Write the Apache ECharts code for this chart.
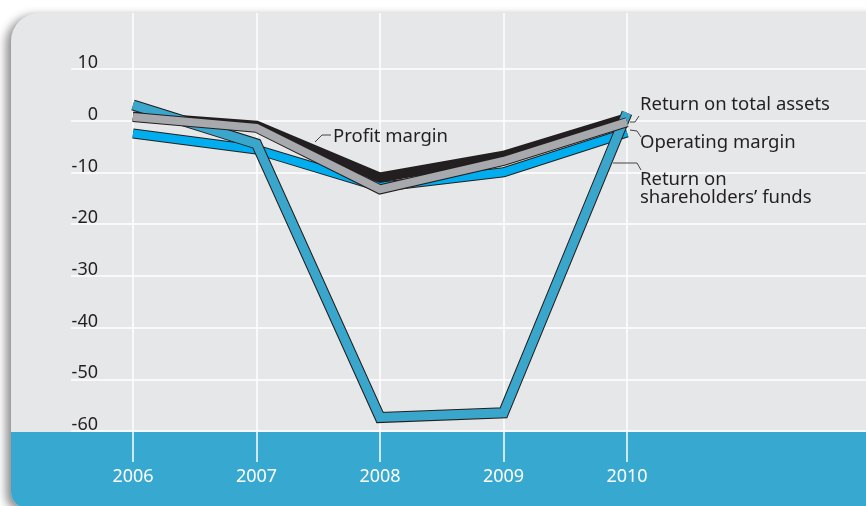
<!DOCTYPE html>
<html style="height: 100%">

<head>
    <meta charset="utf-8">
</head>

<body style="height: 100%; margin: 0; background: #fff">
    <div id="container" style="width: 866px; height: 506px"></div>

    <script src="https://cdn.jsdelivr.net/npm/echarts@6/dist/echarts.min.js"></script>

    <script type="text/javascript">
        // data
        var years = ['2006', '2007', '2008', '2009', '2010'];
        var yTicks = [10, 0, -10, -20, -30, -40, -50, -60];
        var profitMargin = [0.8, -1.0, -11, -6.8, 0.5];
        var returnTotalAssets = [0.7, -1.4, -13.3, -7.8, -0.3];
        var operatingMargin = [-2.5, -5.6, -12.8, -10, -2.3];
        var returnShareholders = [3, -4.5, -57.4, -56.5, 1.5];

        var myChart = echarts.init(document.getElementById('container'));
        var font = 'Noto Sans';
        var ink = '#231f20';

        // one line = dark outline underneath + coloured line on top
        function outlined(name, data, color, width) {
            var base = {
                type: 'line',
                xAxisIndex: 1,
                yAxisIndex: 1,
                data: data,
                symbol: 'none',
                silent: true,
                animation: false
            };
            return [
                Object.assign({}, base, {
                    name: name + '_edge',
                    lineStyle: { color: ink, width: width + 2, cap: 'butt', join: 'miter' }
                }),
                Object.assign({}, base, {
                    name: name,
                    lineStyle: { color: color, width: width, cap: 'butt', join: 'miter' }
                })
            ];
        }

        var series = [].concat(
            outlined('Operating margin', operatingMargin, '#00adee', 8),
            outlined('Profit margin', profitMargin, '#231f20', 8),
            outlined("Return on shareholders' funds", returnShareholders, '#3aa6cc', 9),
            outlined('Return on total assets', returnTotalAssets, '#a7a9ac', 8)
        );

        function txt(x, y, s) {
            return {
                type: 'text', x: x, y: y, z: 50,
                style: { text: s, fill: ink, font: '18.5px "Noto Sans"', textVerticalAlign: 'middle', lineHeight: 19 }
            };
        }
        function lead(points) {
            return {
                type: 'polyline', z: 50,
                shape: { points: points },
                style: { stroke: '#444', lineWidth: 1, fill: null }
            };
        }

        var option = {
            animation: false,
            grid: [
                // horizontal grid lines + y labels
                { left: 71, right: 0, top: 69, bottom: 75 },
                // categories, vertical lines, series
                { left: 133, right: 239, top: 13, bottom: 44 }
            ],
            xAxis: [
                { gridIndex: 0, type: 'value', show: false },
                {
                    gridIndex: 1,
                    type: 'category',
                    data: years,
                    boundaryGap: false,
                    axisLine: { show: false },
                    axisTick: { show: false },
                    axisLabel: { color: '#fff', fontFamily: font, fontSize: 18, margin: 6 },
                    splitLine: { show: true, lineStyle: { color: '#fff', width: 1.5 } }
                }
            ],
            yAxis: [
                {
                    gridIndex: 0,
                    type: 'value',
                    min: -60,
                    max: 10,
                    interval: 10,
                    axisLine: { show: false },
                    axisTick: { show: false },
                    axisLabel: {
                        inside: true,
                        margin: 27,
                        align: 'right',
                        verticalAlign: 'bottom',
                        color: ink,
                        fontFamily: font,
                        fontSize: 18,
                        lineHeight: 12,
                        formatter: function (v) { return yTicks.indexOf(v) >= 0 ? String(v) : ''; }
                    },
                    splitLine: { lineStyle: { color: '#fff', width: 1.5 } }
                },
                { gridIndex: 1, type: 'value', min: -66, max: 20.8, show: false }
            ],
            graphic: [
                {
                    type: 'rect', z: -10,
                    shape: { x: 11, y: 13, width: 900, height: 495, r: [28, 0, 0, 16] },
                    style: { fill: '#e6e7e8', shadowBlur: 10, shadowOffsetX: -5, shadowOffsetY: 3, shadowColor: 'rgba(0,0,0,0.45)' }
                },
                {
                    type: 'rect', z: -5,
                    shape: { x: 11, y: 432, width: 900, height: 76, r: [0, 0, 0, 16] },
                    style: { fill: '#37a8cf' }
                },
                txt(333, 137, 'Profit margin'),
                lead([[331, 135], [322, 135], [315, 142]]),
                txt(640, 105, 'Return on total assets'),
                lead([[639, 116], [635, 122], [630, 122]]),
                txt(640, 143, 'Operating margin'),
                lead([[630, 130], [637, 131], [641, 137]]),
                txt(640, 180, 'Return on'),
                txt(640, 198, 'shareholders\u2019 funds'),
                lead([[613, 163], [637, 163], [641, 170]])
            ],
            series: series
        };

        myChart.setOption(option);
    </script>
</body>

</html>
